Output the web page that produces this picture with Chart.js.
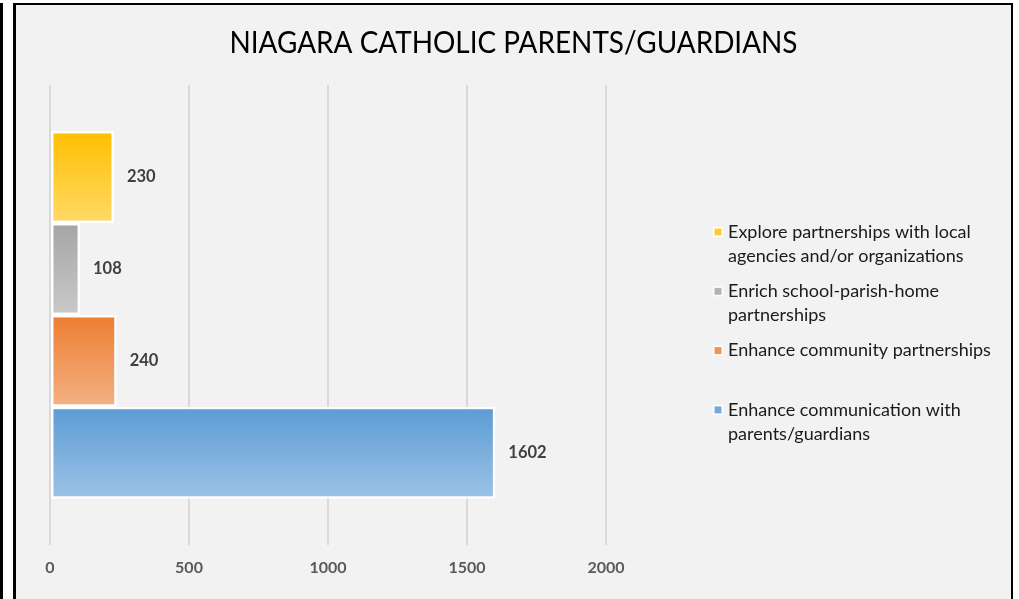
<!DOCTYPE html>
<html>
<head>
<meta charset="utf-8">
<title>Niagara Catholic Parents/Guardians</title>
<script src="https://cdn.jsdelivr.net/npm/chart.js@4/dist/chart.umd.min.js"></script>
<style>
  html, body { margin: 0; padding: 0; background: #fff; width: 1019px; height: 599px; overflow: hidden; }
  #edge { position: absolute; left: 0; top: 3px; width: 3px; height: 620px; background: #000; }
  #frame { position: absolute; left: 13px; top: 3px; width: 995px; height: 620px;
           border-style: solid; border-color: #000; border-width: 2px 2px 0 3px; background: #f2f2f2; }
  #wrap { position: absolute; left: 0; top: 0; width: 1019px; height: 599px; }
</style>
</head>
<body>
<div id="edge"></div>
<div id="frame"></div>
<div id="wrap"><canvas id="chart"></canvas></div>
<script>
// Données
const chartTitle = 'NIAGARA CATHOLIC PARENTS/GUARDIANS';
const categories = [''];
const seriesNames = [
  ['Explore partnerships with local', 'agencies and/or organizations'],
  ['Enrich school-parish-home', 'partnerships'],
  ['Enhance community partnerships'],
  ['Enhance communication with', 'parents/guardians']
];
const seriesValues = [230, 108, 240, 1602];
const axisMin = 0;
const axisMax = 2000;
const axisStep = 500;

// Couleurs (dégradé haut -> bas)
const topColors = ['#ffc000', '#a5a5a5', '#ed7d31', '#5b9bd5'];
const bottomColors = ['#ffd966', '#c9c9c9', '#f4b183', '#9dc3e6'];
const boxColors = ['#ffc935', '#b3b3b3', '#f09458', '#74a9dc'];

const FONT = 'Lato, "Open Sans", sans-serif';

// Titre centré sur toute la largeur (un peu resserré, comme Calibri)
const pageTitle = {
  id: 'pageTitle',
  afterDraw(chart) {
    const ctx = chart.ctx;
    ctx.save();
    ctx.font = '31px ' + FONT;
    ctx.fillStyle = '#000';
    ctx.textAlign = 'center';
    ctx.textBaseline = 'middle';
    ctx.fillText(chartTitle, chart.width / 2 + 4, 43, 568);
    ctx.restore();
  }
};

// Dégradé vertical dans chaque barre
const gradientPlugin = {
  id: 'barGradient',
  beforeDatasetsDraw(chart) {
    const ctx = chart.ctx;
    chart.data.datasets.forEach((ds, i) => {
      chart.getDatasetMeta(i).data.forEach(bar => {
        const p = bar.getProps(['y', 'height'], true);
        const g = ctx.createLinearGradient(0, p.y - p.height / 2, 0, p.y + p.height / 2);
        g.addColorStop(0, topColors[i]);
        g.addColorStop(1, bottomColors[i]);
        bar.options.backgroundColor = g;
      });
    });
  }
};

// Valeurs au bout des barres
const valueLabels = {
  id: 'valueLabels',
  afterDatasetsDraw(chart) {
    const ctx = chart.ctx;
    ctx.save();
    ctx.font = 'bold 16.5px ' + FONT;
    ctx.fillStyle = '#404040';
    ctx.textAlign = 'left';
    ctx.textBaseline = 'middle';
    chart.data.datasets.forEach((ds, i) => {
      chart.getDatasetMeta(i).data.forEach((bar, j) => {
        ctx.fillText(String(ds.data[j]), bar.x + 13, bar.y);
      });
    });
    ctx.restore();
  }
};

// Légende sur deux lignes
const sideLegend = {
  id: 'sideLegend',
  afterDraw(chart) {
    const ctx = chart.ctx;
    const area = chart.chartArea;
    const x0 = area.right + 107;
    ctx.save();
    ctx.font = '18px ' + FONT;
    ctx.textBaseline = 'middle';
    ctx.textAlign = 'left';
    seriesNames.forEach((lines, i) => {
      const y = area.top + 147 + i * 59.3;
      ctx.fillStyle = '#ffffff';
      ctx.fillRect(x0, y - 5, 10, 10);
      ctx.fillStyle = boxColors[i];
      ctx.fillRect(x0 + 1.5, y - 3.5, 7, 7);
      ctx.fillStyle = '#1a1a1a';
      lines.forEach((t, k) => ctx.fillText(t, x0 + 15, y + k * 24));
    });
    ctx.restore();
  }
};

const datasets = seriesValues.map((v, i) => ({
  label: seriesNames[i].join(' '),
  data: [v],
  backgroundColor: topColors[i],
  borderColor: '#ffffff',
  borderWidth: 2.5,
  borderSkipped: false,
  barPercentage: 1,
  categoryPercentage: 0.8
}));

new Chart(document.getElementById('chart'), {
  type: 'bar',
  data: { labels: categories, datasets: datasets },
  plugins: [gradientPlugin, valueLabels, sideLegend, pageTitle],
  options: {
    indexAxis: 'y',
    responsive: true,
    maintainAspectRatio: false,
    animation: false,
    layout: { padding: { left: 50, right: 413, top: 85, bottom: 9 } },
    plugins: {
      legend: { display: false },
      tooltip: { enabled: false },
      title: { display: false }
    },
    scales: {
      x: {
        min: axisMin,
        max: axisMax,
        ticks: { stepSize: axisStep, color: '#595959', padding: 13,
                 font: { family: FONT, size: 16, weight: 'bold' },
                 callback: v => String(v) },
        grid: { color: '#d9d9d9', lineWidth: 2, drawTicks: false },
        border: { display: false }
      },
      y: { display: false }
    }
  }
});
</script>
</body>
</html>
